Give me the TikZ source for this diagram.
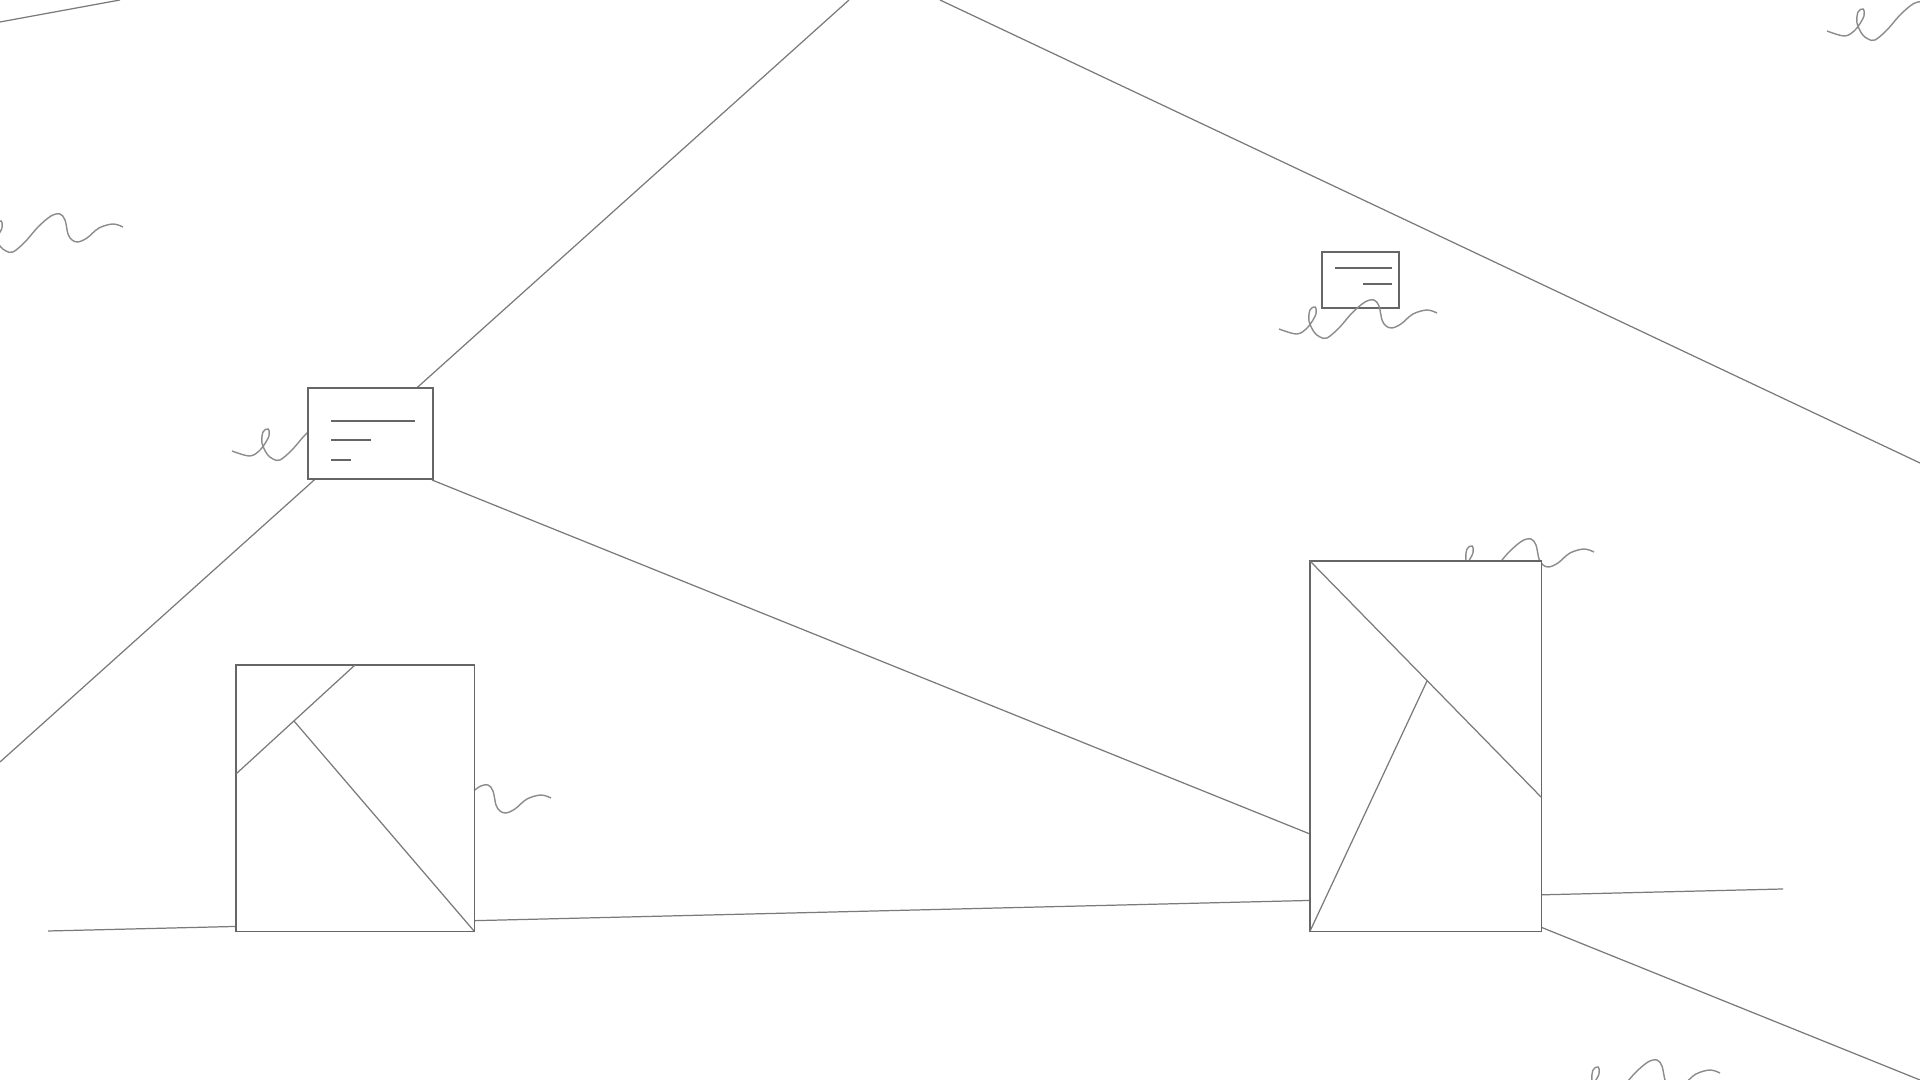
\documentclass[tikz,border=0pt]{standalone}
\begin{document}
\begin{tikzpicture}[x=0.01cm,y=-0.01cm,
  thinline/.style={draw=black!52,line width=0.35pt},
  boxline/.style={draw=black!60,line width=0.35pt,fill=white,inner sep=0pt,outer sep=0pt,anchor=north west},
  textline/.style={draw=black!60,line width=0.4pt},
  squigline/.style={draw=black!45,line width=0.4pt},
  squig/.pic={\draw[squigline] plot[smooth,tension=0.55] coordinates {(-48,-9) (-30,-4) (-19,-11) (-11,-24) (-12,-31) (-17,-28) (-18,-17) (-13,-6) (-7,-1) (0,0) (12,-10) (25,-25) (38,-36) (47,-38) (52,-32) (55,-18) (59,-12) (65,-10) (74,-14) (86,-24) (100,-28) (110,-25)};}]
\useasboundingbox (0,0) rectangle (1920,1080);
\clip (0,0) rectangle (1920,1080);
\fill[white] (0,0) rectangle (1920,1080);
% free end points
\coordinate (tl1) at (0,22);
\coordinate (tl2) at (120,0);
\coordinate (pA) at (849,0);
\coordinate (pB) at (0,762);
\coordinate (pC) at (940,0);
\coordinate (pD) at (1920,463);
\coordinate (pE) at (1920,1080);
\coordinate (g1) at (48,931);
\coordinate (g2) at (1783,889);
% long lines (behind boxes)
\draw[thinline] (tl1) -- (tl2);
\draw[thinline] (pA) -- (pB);
\draw[thinline] (pC) -- (pD);
\draw[thinline] (g1) -- (g2);
\draw[thinline] (432,480) -- (pE);
% squiggles behind boxes
\pic at (13,252) {squig};
\pic at (1875,40) {squig};
\pic at (1610,1098) {squig};
\pic at (280,460) {squig};
\pic at (1484,577) {squig};
\pic at (441,823) {squig};
% boxes
\node[boxline,minimum width=1.25cm,minimum height=0.91cm] (n1) at (308,388) {};
\node[boxline,minimum width=0.77cm,minimum height=0.56cm] (n2) at (1322,252) {};
\node[boxline,minimum width=2.38cm,minimum height=2.66cm] (b1) at (236,665) {};
\node[boxline,minimum width=2.31cm,minimum height=3.70cm] (b2) at (1310,561) {};
% note text lines
\draw[textline] (331,421) -- (415,421);
\draw[textline] (331,440) -- (371,440);
\draw[textline] (331,460) -- (351,460);
\draw[textline] (1335,268) -- (1392,268);
\draw[textline] (1363,284) -- (1392,284);
% inner lines of big boxes
\draw[thinline] (355,665) -- (236,774);
\draw[thinline] (294,721) -- (b1.south east);
\draw[thinline] (b2.north west) -- (1541,797);
\draw[thinline] (1427,681) -- (b2.south west);
% squiggle over the small note
\pic at (1327,338) {squig};
\end{tikzpicture}
\end{document}
